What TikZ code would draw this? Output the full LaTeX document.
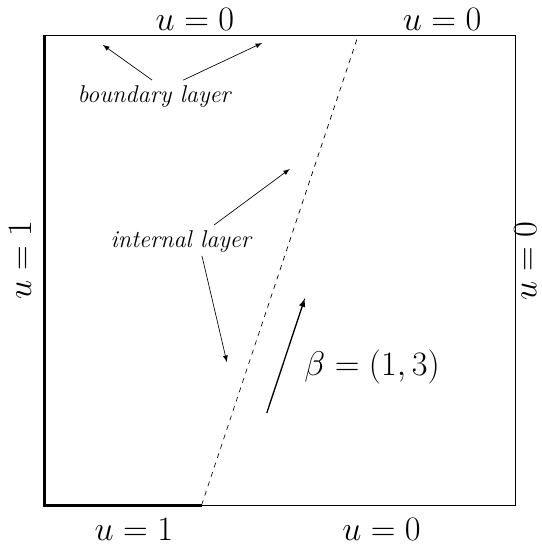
\documentclass[tikz,border=0pt]{standalone}
\usetikzlibrary{arrows}
\tikzset{bc/.style={font=\fontsize{21}{25}\selectfont},
	layer/.style={font=\fontsize{14.7}{18}\selectfont\itshape}}
\begin{document}
\begin{tikzpicture}[>=latex]
		\useasboundingbox (-0.957,-0.872) rectangle (10.574,10.745);
		%% The Domain
		\draw (0,0) rectangle (10,10);
		\draw[line width=1.8pt] (0,10) -- (0,0) -- (3.333,0) coordinate (q1);
		\coordinate (q2) at (6.667,10);
		\draw[dashed] (q1) -- (q2);
		%% The Boundary Data
		\node[bc] (top1) at (3.19,10.33) {$u=0$};
		\node[bc] (top2) at (8.45,10.33) {$u=0$};
		\node[bc,rotate=90] (left) at (-0.53,5.21) {$u=1$};
		\node[bc,rotate=90,inner sep=0pt] (right) at (10.22,5.19) {$u=0$};
		\node[bc] (bot1) at (1.89,-0.53) {$u=1$};
		\node[bc] (bot2) at (7.16,-0.53) {$u=0$};
		%% The Layers
		\node[layer] (bl) at (2.32,8.70) {boundary layer};
		\coordinate (bl1) at (1.23,9.79);
		\coordinate (bl2) at (4.62,9.83);
		\draw[->] ([shift={(-0.04,0.34)}]bl.center) -- (bl1);
		\draw[->] ([shift={(0.62,0.34)}]bl.center) -- (bl2);
		\node[layer] (il) at (2.89,5.60) {internal layer};
		\coordinate (il1) at (5.21,7.15);
		\coordinate (il2) at (3.87,3.04);
		\draw[->] ([shift={(0.71,0.36)}]il.center) -- (il1);
		\draw[->] ([shift={(0.45,-0.30)}]il.center) -- (il2);
		%% The Convection
		\coordinate (b0) at (4.72,1.96);
		\coordinate (b1) at (5.53,4.40);
		\draw[->,thick] (b0) -- (b1);
		\node[font=\huge] (beta) at (6.96,2.94) {$\beta=(1,3)$};
	\end{tikzpicture}
\end{document}
